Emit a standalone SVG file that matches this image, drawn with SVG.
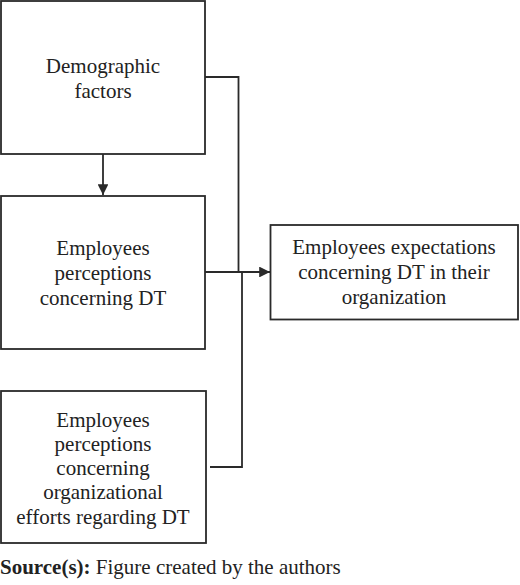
<svg xmlns="http://www.w3.org/2000/svg" width="520" height="585" viewBox="0 0 520 585">
<style>
.box{fill:#fff;stroke:#2a2a2a;stroke-width:1.8}
.c{fill:none;stroke:#2a2a2a;stroke-width:1.8}
</style>
<defs>
<marker id="ah" viewBox="0 0 10 10" refX="10" refY="5" markerWidth="6" markerHeight="6" markerUnits="strokeWidth" orient="auto">
<path d="M0,0 L10,5 L0,10 z" fill="#2a2a2a"/>
</marker>
</defs>
<rect width="520" height="585" fill="#fff"/>
<g id="connectors">
<line class="c" x1="103" y1="154" x2="103" y2="195" marker-end="url(#ah)"/>
<polyline class="c" points="205,77 238.5,77 238.5,272"/>
<line class="c" x1="205" y1="272" x2="270" y2="272" marker-end="url(#ah)"/>
<polyline class="c" points="210,467 242,467 242,272"/>
</g>
<g font-family="'Liberation Serif', 'Times New Roman', serif" font-size="21" fill="#222" text-anchor="middle">
<g id="demographic">
<rect class="box" x="1" y="1" width="204" height="153"/>
<text x="103" y="73">Demographic</text>
<text x="103" y="98">factors</text>
</g>
<g id="perceptions">
<rect class="box" x="1" y="196" width="204" height="153"/>
<text x="103" y="255">Employees</text>
<text x="103" y="280">perceptions</text>
<text x="103" y="305">concerning DT</text>
</g>
<g id="efforts">
<rect class="box" x="1" y="391" width="205" height="152"/>
<text x="103" y="427">Employees</text>
<text x="103" y="451">perceptions</text>
<text x="103" y="475">concerning</text>
<text x="103" y="499">organizational</text>
<text x="103" y="524">efforts regarding DT</text>
</g>
<g id="expectations">
<rect class="box" x="270.5" y="225" width="247.5" height="94.5"/>
<text x="394" y="254">Employees expectations</text>
<text x="394" y="279">concerning DT in their</text>
<text x="394" y="304">organization</text>
</g>
</g>
<text font-family="'Liberation Serif', 'Times New Roman', serif" font-size="21" fill="#222" x="0" y="574"><tspan font-weight="bold">Source(s):</tspan> Figure created by the authors</text>
</svg>
